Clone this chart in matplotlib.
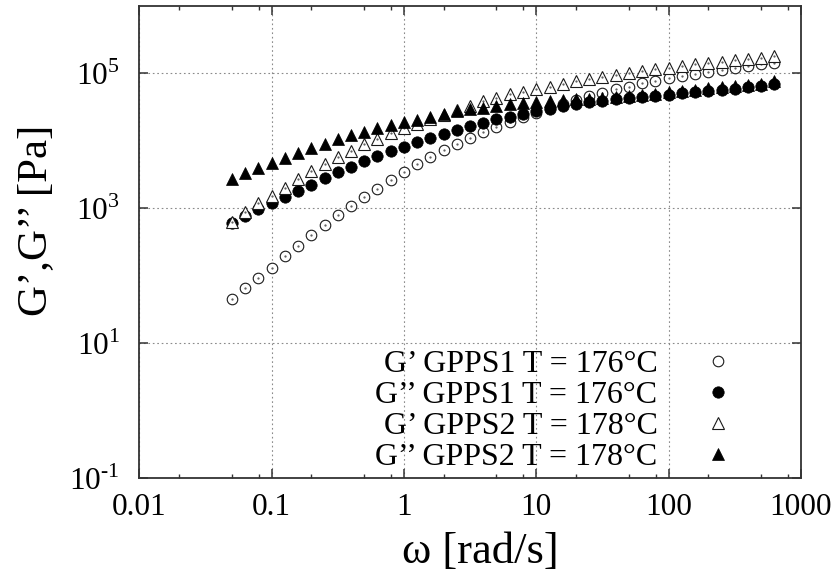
import matplotlib
matplotlib.use('Agg')
import matplotlib.pyplot as plt
from matplotlib.ticker import FixedLocator, FixedFormatter, NullFormatter, LogLocator, NullLocator

plt.rcParams['font.family'] = ['Liberation Serif', 'DejaVu Serif']
plt.rcParams['mathtext.fontset'] = 'custom'
plt.rcParams['mathtext.rm'] = 'Liberation Serif'
plt.rcParams['axes.unicode_minus'] = False

# ---------------- data ----------------
omega = [0.05, 0.0629, 0.0792, 0.0998, 0.126, 0.158, 0.199, 0.251, 0.315, 0.397,
         0.5, 0.629, 0.792, 0.998, 1.26, 1.58, 1.99, 2.51, 3.15, 3.97,
         5.0, 6.29, 7.92, 9.98, 12.6, 15.8, 19.9, 25.1, 31.5, 39.7,
         50.0, 62.9, 79.2, 99.8, 126, 158, 199, 251, 315, 397,
         500, 629]

g1_storage = [44, 64, 91, 131, 191, 275, 392, 557, 777, 1067,
              1452, 1928, 2567, 3409, 4436, 5636, 7157, 8873, 10890, 13240,
              15700, 18800, 22100, 25800, 30100, 34800, 39900, 45700, 51200, 57500,
              62800, 70600, 77200, 83700, 90600, 97000, 104900, 112300, 120200, 127400,
              135100, 142600]

g1_loss = [597, 766, 973, 1170, 1466, 1799, 2186, 2749, 3375, 4087,
           4966, 5888, 6985, 8091, 9400, 11000, 12600, 14450, 16240, 18190,
           20630, 22550, 24720, 27100, 29300, 32150, 34800, 37250, 38550, 40850,
           42270, 44200, 45700, 47840, 50100, 52450, 54800, 56700, 58700, 61500,
           64400, 69000]

g2_storage = [610, 860, 1194, 1503, 1995, 2656, 3527, 4480, 5636, 7060,
              8790, 10520, 12790, 15170, 17800, 20650, 24000, 28200, 33100, 38550,
              42270, 48400, 53000, 58100, 62800, 69600, 75500, 81700, 86700, 93700,
              99300, 107400, 113800, 120200, 127400, 135100, 141300, 147600, 154900, 161900,
              169200, 177600]

g2_loss = [2656, 3260, 3870, 4688, 5560, 6590, 7660, 8970, 10420, 12070,
           13510, 15170, 16980, 18800, 20150, 22100, 24720, 27400, 29000, 30670,
           32500, 34430, 35640, 37650, 38550, 39600, 40850, 41980, 43030, 44480,
           46030, 48100, 49800, 52100, 54600, 57100, 59700, 61800, 63900, 67000,
           70100, 76300]

labels = ['G\u2019 GPPS1 T = 176\u00b0C',
          'G\u2019\u2019 GPPS1 T = 176\u00b0C',
          'G\u2019 GPPS2 T = 178\u00b0C',
          'G\u2019\u2019 GPPS2 T = 178\u00b0C']

xtick_vals = [0.01, 0.1, 1, 10, 100, 1000]
xtick_labels = ['0.01', '0.1', '1', '10', '100', '1000']
ytick_vals = [0.1, 10, 1000, 100000]
ytick_labels = [r'$10^{\text{-}1}$', r'$10^{1}$', r'$10^{3}$', r'$10^{5}$']

# ---------------- figure ----------------
W, H = 839, 581
fig = plt.figure(figsize=(W / 100, H / 100), dpi=100)
L, R, T, B = 139.3, 801.0, 5.7, 477.7
ax = fig.add_axes([L / W, 1 - B / H, (R - L) / W, (B - T) / H])
ax.set_xscale('log')
ax.set_yscale('log')
ax.set_xlim(0.01, 1000)
ax.set_ylim(0.1, 1e6)

ink = '#1a1a1a'
ax.plot(omega, g1_storage, linestyle='none', marker='o', ms=7.6, mfc='white',
        mec=ink, mew=0.8, label=labels[0], zorder=3)
ax.plot(omega, g1_storage, linestyle='none', marker='.', ms=1.2, color='#555555', zorder=3)
ax.plot(omega, g1_loss, linestyle='none', marker='o', ms=8.2, mfc='black',
        mec='black', mew=0.5, label=labels[1], zorder=4)
ax.plot(omega, g2_storage, linestyle='none', marker='^', ms=8.5, mfc='white',
        mec=ink, mew=0.8, label=labels[2], zorder=5)
ax.plot(omega, g2_storage, linestyle='none', marker='.', ms=1.2, color='#555555', zorder=5)
ax.plot(omega, g2_loss, linestyle='none', marker='^', ms=8.5, mfc='black',
        mec='black', mew=0.5, label=labels[3], zorder=6)

# ticks
ax.xaxis.set_major_locator(FixedLocator(xtick_vals))
ax.xaxis.set_major_formatter(FixedFormatter(xtick_labels))
ax.xaxis.set_minor_locator(LogLocator(base=10, subs=[2, 5, 8]))
ax.xaxis.set_minor_formatter(NullFormatter())
ax.yaxis.set_major_locator(FixedLocator(ytick_vals))
ax.yaxis.set_major_formatter(FixedFormatter(ytick_labels))
ax.yaxis.set_minor_locator(NullLocator())

spine_c = '#333333'
for s in ax.spines.values():
    s.set_color(spine_c)
    s.set_linewidth(1.3)
ax.tick_params(which='both', direction='in', top=True, right=True, color=spine_c,
               labelcolor='black', labelsize=22.5)
ax.tick_params(which='major', length=6.5, width=1.1)
ax.tick_params(which='minor', length=3.0, width=1.0)
ax.tick_params(axis='x', which='major', pad=11)
ax.tick_params(axis='y', which='major', pad=14)

ax.grid(True, which='major', linestyle=(0, (1.5, 2.5)), color='#8a8a8a', linewidth=0.8)
ax.set_axisbelow(True)

ax.set_xlabel('\u03c9 [rad/s]', fontsize=32, labelpad=7)
ax.xaxis.label.set_x(0.515)
ax.set_ylabel('G\u2019,G\u2019\u2019 [Pa]', fontsize=31, labelpad=10)
ax.yaxis.label.set_y(0.545)

ax.legend(loc='lower right', bbox_to_anchor=((747 - L) / (R - L), 0.012),
          frameon=False, markerfirst=False, fontsize=23, handlelength=1.8,
          handletextpad=1.0, labelspacing=0.05, borderpad=0, borderaxespad=0)

fig.savefig('out.png', dpi=100)
